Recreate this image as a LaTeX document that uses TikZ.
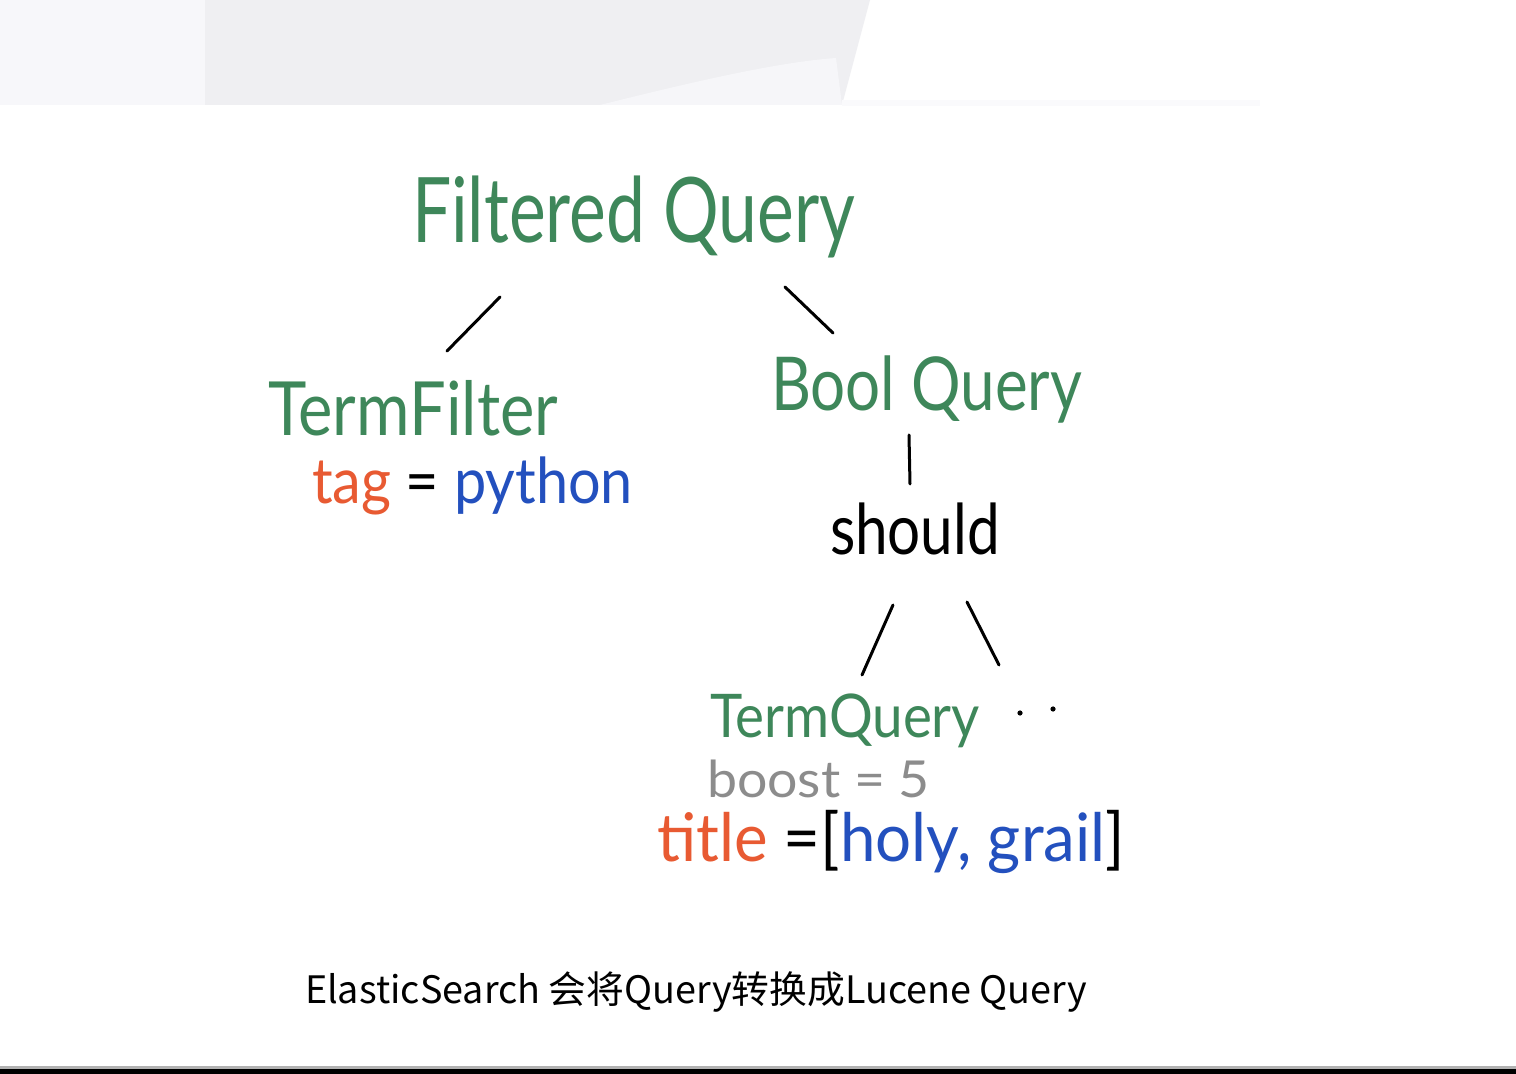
\documentclass[tikz,border=0pt]{standalone}
\usepackage{fontspec}
\setmainfont{Lato}
\newfontfamily\cjk{Noto Sans CJK SC}
\definecolor{hwgreen}{RGB}{62,135,90}
\definecolor{hwor}{RGB}{232,90,50}
\definecolor{hwblue}{RGB}{35,80,190}
\definecolor{hwgray}{RGB}{140,140,140}
\definecolor{bandA}{RGB}{247,247,250}
\definecolor{bandB}{RGB}{239,239,242}
\definecolor{bandC}{RGB}{246,246,249}
\newcommand{\hwtext}[3]{\scalebox{1}[#2]{\resizebox{#1}{!}{#3}}}
\begin{document}
\begin{tikzpicture}[x=0.5pt,y=-0.5pt,
  hw/.style={anchor=base west,inner sep=0pt,outer sep=0pt},
  stroke/.style={line width=1.5pt,line cap=round,black}]
\useasboundingbox (0,0) rectangle (1516,1074);
\fill[white] (0,0) rectangle (1516,1074);
% top band
\fill[bandA] (0,0) rectangle (205,105);
\fill[bandB] (205,0) -- (870,0) -- (842,105) -- (205,105) -- cycle;
\fill[bandC] (600,105) .. controls (700,80) and (780,62) .. (836,58) -- (842,105) -- cycle;
\fill[bandC!50!white] (842,100) rectangle (1260,106);
% bottom bar
\fill[gray!60] (0,1066) rectangle (1516,1069);
\fill[black] (0,1069) rectangle (1516,1074);
% texts
\node[hw,text=hwgreen] (fq) at (412,243) {\hwtext{221.5pt}{1.3}{Filtered Query}};
\node[hw,text=hwgreen] (tf) at (268,436) {\hwtext{145pt}{1.15}{TermFilter}};
\node[hw] (tag) at (312,504) {\hwtext{160.5pt}{1.1}{\textcolor{hwor}{tag} = \textcolor{hwblue}{python}}};
\node[hw,text=hwgreen] (bq) at (771,411) {\hwtext{155.5pt}{1.2}{Bool Query}};
\node[hw,text=black] (sh) at (830,555) {\hwtext{85pt}{1.2}{should}};
\node[hw,text=hwgreen] (tq) at (710,737) {\hwtext{135pt}{1.1}{TermQuery}};
\node[hw,text=hwgray] (bo) at (707,797) {\hwtext{111.5pt}{0.95}{boost = 5}};
\node[hw] (ti) at (657,862) {\hwtext{234pt}{1.05}{\textcolor{hwor}{title} =[\textcolor{hwblue}{holy, grail}]}};
\fill (1020,713) circle (1.3pt) coordinate (d1);
\fill (1053,709) circle (1.3pt) coordinate (d2);
\node[hw] (cap) at (305,1003) {\resizebox{391pt}{!}{\cjk ElasticSearch 会将Query转换成Lucene Query}};
% connectors
\coordinate (a1) at (500,297); \coordinate (a2) at (447,351);
\coordinate (b1) at (785,287); \coordinate (b2) at (833,333);
\coordinate (c1) at (909,435); \coordinate (c2) at (910,484);
\coordinate (e1) at (893,605); \coordinate (e2) at (862,675);
\coordinate (f1) at (967,602); \coordinate (f2) at (999,665);
\draw[stroke] (a1) -- (a2);
\draw[stroke] (b1) -- (b2);
\draw[stroke] (c1) -- (c2);
\draw[stroke] (e1) -- (e2);
\draw[stroke] (f1) -- (f2);
\end{tikzpicture}
\end{document}
